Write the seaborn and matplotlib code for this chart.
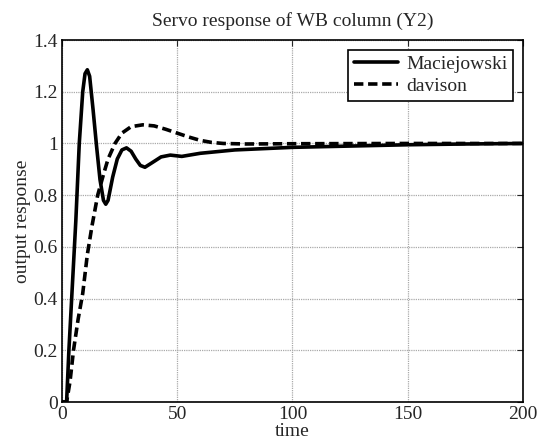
import matplotlib
matplotlib.use("Agg")
import matplotlib.pyplot as plt
import seaborn as sns
import pandas as pd
import numpy as np

# Maciejowski (solid)
t_mac = [0, 2, 3, 4.5, 6, 7.5, 9, 10, 11, 12, 13.5, 15, 16.5, 18, 19, 20, 22, 24,
         26, 28, 30, 32, 34, 36, 39, 43, 47, 52, 60, 75, 100, 125, 150, 175, 200]
y_mac = [0, 0, 0.2, 0.45, 0.7, 1.0, 1.2, 1.27, 1.285, 1.26, 1.13, 0.99, 0.86, 0.78, 0.765,
         0.78, 0.87, 0.94, 0.975, 0.983, 0.97, 0.94, 0.915, 0.908, 0.925, 0.948, 0.955,
         0.95, 0.962, 0.975, 0.985, 0.99, 0.995, 0.998, 1.0]

# davison (dashed)
t_dav = [0, 2, 3.5, 5, 7, 9, 11, 13, 15.5, 18, 20, 23, 26, 30, 35, 40, 45, 50, 55,
         60, 65, 70, 80, 100, 150, 200]
y_dav = [0, 0, 0.08, 0.2, 0.32, 0.42, 0.57, 0.68, 0.8, 0.88, 0.94, 1.0, 1.04, 1.065,
         1.072, 1.068, 1.055, 1.04, 1.025, 1.012, 1.004, 1.0, 0.998, 0.999, 1.0, 1.0]

df = pd.concat([
    pd.DataFrame({"time": t_mac, "output response": y_mac, "method": "Maciejowski"}),
    pd.DataFrame({"time": t_dav, "output response": y_dav, "method": "davison"}),
])

sns.set_style("white")
plt.rcParams["font.family"] = ["Liberation Serif", "DejaVu Serif"]
plt.rcParams["font.size"] = 14

fig = plt.figure(figsize=(5.39, 4.45), dpi=100)
ax = fig.add_axes([0.115, 0.0966, 0.855, 0.8134])

sns.lineplot(data=df, x="time", y="output response", hue="method", style="method",
             palette=["black", "black"], dashes=[(None, None), (2.6, 1.3)],
             linewidth=2.6, ax=ax)

ax.set_xlim(0, 200)
ax.set_ylim(0, 1.4)
ax.set_xticks([0, 50, 100, 150, 200])
ax.set_yticks(np.arange(0, 1.41, 0.2))
ax.set_yticklabels(["0", "0.2", "0.4", "0.6", "0.8", "1", "1.2", "1.4"])
ax.grid(True, color="#aaaaaa", linestyle=(0, (1, 0.8)), linewidth=0.9)
ax.tick_params(direction="in", length=4, top=True, right=True, labelsize=14, pad=3)
for s in ax.spines.values():
    s.set_color("black")
    s.set_linewidth(1.2)

ax.set_title("Servo response of WB column (Y2)", fontsize=14, pad=10)
ax.set_xlabel("time", fontsize=14, labelpad=0)
ax.set_ylabel("output response", fontsize=14, labelpad=2)

leg = ax.legend(loc="upper right", fontsize=14, frameon=True, fancybox=False,
                edgecolor="black", framealpha=1, handlelength=2.3, handletextpad=0.4,
                borderaxespad=0.5, borderpad=0.3, labelspacing=0.2)
leg.get_frame().set_linewidth(1.2)

fig.savefig("out.png", dpi=100)
